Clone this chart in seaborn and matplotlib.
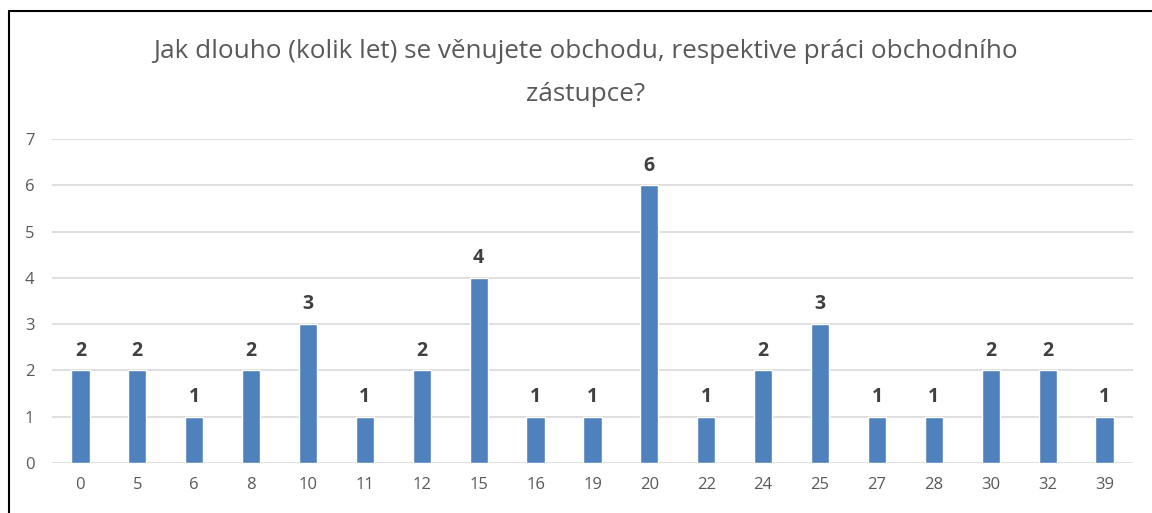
import matplotlib
matplotlib.use('Agg')
import matplotlib.pyplot as plt
import seaborn as sns
import pandas as pd
from matplotlib.lines import Line2D

# data
years = ['0', '5', '6', '8', '10', '11', '12', '15', '16', '19',
         '20', '22', '24', '25', '27', '28', '30', '32', '39']
counts = [2, 2, 1, 2, 3, 1, 2, 4, 1, 1, 6, 1, 2, 3, 1, 1, 2, 2, 1]
title_lines = ['Jak dlouho (kolik let) se věnujete obchodu, respektive práci obchodního',
               'zástupce?']

df = pd.DataFrame({'roky': years, 'pocet': counts})

sns.set_style('white')
plt.rcParams['font.family'] = ['Open Sans', 'DejaVu Sans']

fig = plt.figure(figsize=(11.52, 5.13), dpi=100)
ax = fig.add_axes([0.0451, 0.0975, 0.9384, 0.6315])

sns.barplot(data=df, x='roky', y='pocet', color='#4F81BD', saturation=1,
            width=0.32, ax=ax, zorder=3)

ax.set_ylim(0, 7)
ax.set_xlim(-0.5, len(years) - 0.5)
ax.set_yticks(range(0, 8))
ax.yaxis.grid(True, color='#D9D9D9', linewidth=1.2, zorder=0)
ax.set_axisbelow(True)
for s in ax.spines.values():
    s.set_visible(False)
ax.set_xlabel('')
ax.set_ylabel('')
ax.tick_params(axis='both', length=0, labelsize=12, labelcolor='#595959')
ax.tick_params(axis='x', pad=10)
ax.tick_params(axis='y', pad=19.5)
for lbl in ax.get_yticklabels():
    lbl.set_horizontalalignment('left')

for c in ax.containers:
    ax.bar_label(c, fmt='%d', padding=7, fontsize=14, fontweight='bold',
                 color='#404040')

# title, two lines placed separately
fig.text(0.508, 1 - 52 / 513, title_lines[0], ha='center', va='center',
         fontsize=18.8, color='#595959')
fig.text(0.508, 1 - 95 / 513, title_lines[1], ha='center', va='center',
         fontsize=18.8, color='#595959')

# black frame edges like the cropped screenshot
fig.add_artist(Line2D([9 / 1152, 1], [1 - 11 / 513, 1 - 11 / 513],
                      color='black', linewidth=1.5, transform=fig.transFigure))
fig.add_artist(Line2D([9 / 1152, 9 / 1152], [0, 1 - 11 / 513],
                      color='black', linewidth=1.5, transform=fig.transFigure))

fig.savefig('out.png', dpi=100)
